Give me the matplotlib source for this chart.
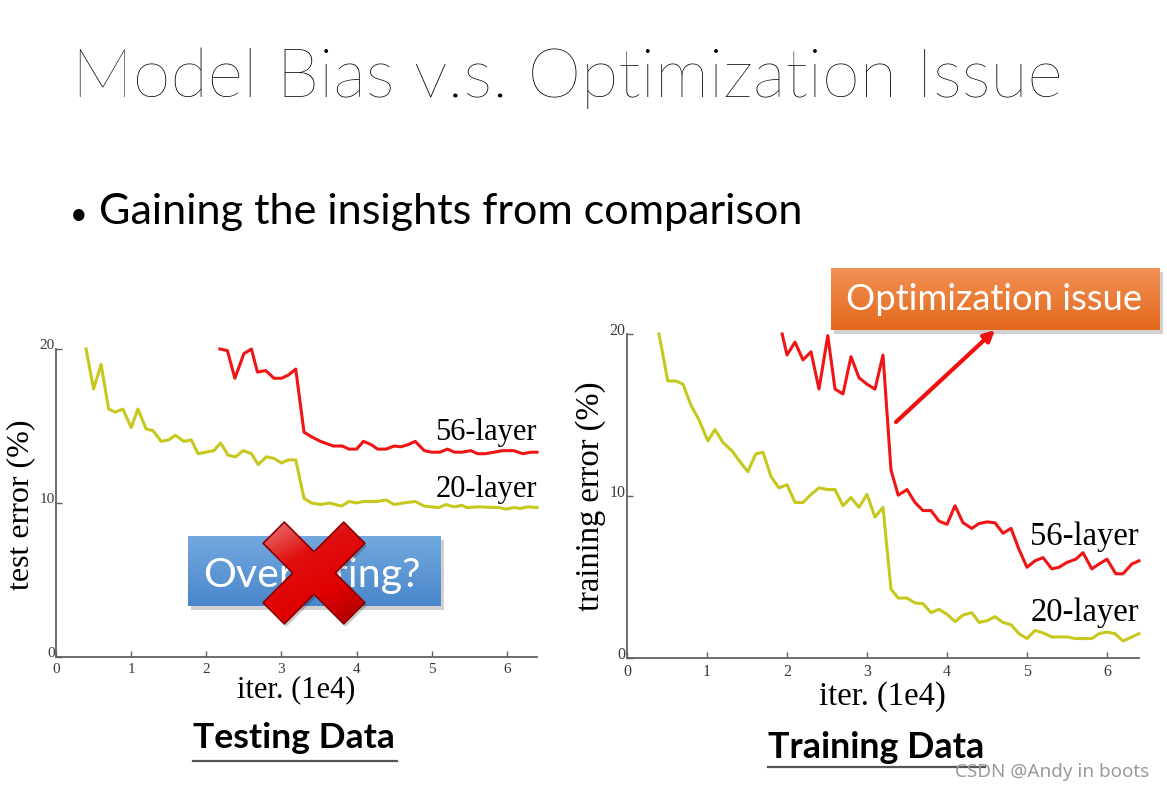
import matplotlib
matplotlib.use('Agg')
import matplotlib.pyplot as plt
import matplotlib.transforms as mtrans
import numpy as np
from matplotlib.patches import Polygon, Rectangle
from matplotlib.colors import LinearSegmentedColormap

W, H = 1167, 792

# ---- data (x in 1e4 iterations, y in %) ----
test56_x = [2.18, 2.28, 2.38, 2.50, 2.60, 2.68, 2.79, 2.90, 3.00, 3.09, 3.19, 3.30, 3.40, 3.52, 3.69,
            3.81, 3.90, 4.00, 4.09, 4.19, 4.28, 4.39, 4.50, 4.59, 4.69, 4.78, 4.90, 5.00, 5.11, 5.21,
            5.30, 5.40, 5.52, 5.61, 5.71, 5.83, 5.94, 6.09, 6.21, 6.32, 6.40]
test56_y = [20.0, 19.9, 18.1, 19.7, 20.0, 18.5, 18.6, 18.1, 18.1, 18.3, 18.7, 14.6, 14.3, 14.0, 13.7,
            13.7, 13.5, 13.5, 14.0, 13.8, 13.5, 13.5, 13.7, 13.65, 13.8, 14.0, 13.4, 13.3, 13.3, 13.5,
            13.3, 13.3, 13.4, 13.2, 13.2, 13.3, 13.4, 13.4, 13.2, 13.3, 13.3]

test20_x = [0.40, 0.50, 0.60, 0.70, 0.79, 0.89, 1.00, 1.09, 1.20, 1.29, 1.40, 1.50, 1.59, 1.70, 1.80,
            1.89, 1.99, 2.10, 2.19, 2.29, 2.39, 2.49, 2.60, 2.69, 2.80, 2.90, 3.00, 3.09, 3.19, 3.30,
            3.40, 3.52, 3.64, 3.80, 3.90, 4.00, 4.09, 4.28, 4.39, 4.50, 4.62, 4.78, 4.90, 5.09, 5.19,
            5.30, 5.40, 5.47, 5.61, 5.90, 5.99, 6.09, 6.18, 6.28, 6.40]
test20_y = [20.0, 17.4, 19.0, 16.1, 15.9, 16.1, 14.9, 16.1, 14.8, 14.7, 14.0, 14.1, 14.4, 14.0, 14.1,
            13.2, 13.3, 13.4, 13.9, 13.1, 13.0, 13.4, 13.2, 12.5, 13.0, 12.9, 12.6, 12.8, 12.8, 10.3,
            10.0, 9.9, 10.0, 9.8, 10.1, 10.0, 10.1, 10.1, 10.2, 9.9, 10.0, 10.1, 9.8, 9.7, 9.9,
            9.75, 9.85, 9.7, 9.75, 9.7, 9.6, 9.7, 9.65, 9.75, 9.7]

train56_x = [1.94, 2.00, 2.10, 2.20, 2.30, 2.40, 2.51, 2.60, 2.70, 2.80, 2.90, 3.00, 3.10, 3.20, 3.30,
             3.39, 3.50, 3.60, 3.70, 3.80, 3.90, 4.00, 4.10, 4.20, 4.31, 4.40, 4.50, 4.60, 4.70, 4.80,
             4.90, 5.00, 5.10, 5.20, 5.31, 5.40, 5.50, 5.61, 5.70, 5.81, 5.90, 6.00, 6.11, 6.20, 6.31,
             6.40]
train56_y = [20.0, 18.7, 19.5, 18.4, 18.9, 16.6, 19.9, 16.6, 16.3, 18.6, 17.3, 16.9, 16.6, 18.7, 11.6,
             10.05, 10.4, 9.6, 9.1, 9.1, 8.45, 8.25, 9.4, 8.35, 8.0, 8.3, 8.4, 8.35, 7.7, 8.0,
             6.7, 5.6, 6.0, 6.2, 5.5, 5.6, 5.9, 6.1, 6.5, 5.5, 5.8, 6.1, 5.2, 5.2, 5.8,
             6.0]

train20_x = [0.40, 0.51, 0.61, 0.70, 0.80, 0.90, 1.01, 1.10, 1.20, 1.31, 1.40, 1.51, 1.61, 1.70, 1.80,
             1.90, 2.00, 2.10, 2.20, 2.30, 2.40, 2.51, 2.60, 2.70, 2.80, 2.90, 3.00, 3.10, 3.20, 3.30,
             3.39, 3.50, 3.60, 3.70, 3.80, 3.90, 4.00, 4.10, 4.20, 4.31, 4.40, 4.50, 4.60, 4.70, 4.80,
             4.90, 5.00, 5.10, 5.20, 5.31, 5.40, 5.50, 5.61, 5.81, 5.90, 6.00, 6.10, 6.20, 6.31, 6.40]
train20_y = [20.0, 17.1, 17.1, 16.9, 15.6, 14.7, 13.4, 14.1, 13.3, 12.8, 12.2, 11.5, 12.6, 12.7, 11.2,
             10.5, 10.7, 9.6, 9.6, 10.1, 10.5, 10.4, 10.4, 9.4, 9.9, 9.3, 10.1, 8.7, 9.3, 4.25,
             3.7, 3.7, 3.4, 3.35, 2.8, 3.0, 2.7, 2.25, 2.65, 2.8, 2.2, 2.3, 2.55, 2.2, 2.05,
             1.5, 1.2, 1.7, 1.55, 1.3, 1.3, 1.3, 1.2, 1.2, 1.5, 1.6, 1.5, 1.05, 1.3, 1.5]

layer_names = ['56-layer', '20-layer']
x_ticks = [0, 1, 2, 3, 4, 5, 6]
y_ticks = [0, 10, 20]

RED = '#f01414'
GREEN = '#c6c81e'
SERIF = ['Liberation Serif', 'DejaVu Serif']
SANS = ['Lato', 'DejaVu Sans']

fig = plt.figure(figsize=(W / 100, H / 100), dpi=100)
fig.patch.set_facecolor('white')


def px_box(x0, y0, x1, y1):
    # pixel box (top-left origin) -> figure fraction rect
    return [x0 / W, 1 - y1 / H, (x1 - x0) / W, (y1 - y0) / H]


def style_axes(ax, tick_size):
    ax.set_xlim(0, 6.4)
    ax.set_ylim(0, 20)
    for s in ['top', 'right']:
        ax.spines[s].set_visible(False)
    for s in ['left', 'bottom']:
        ax.spines[s].set_color('#606060')
        ax.spines[s].set_linewidth(1.3)
    ax.set_xticks(x_ticks)
    ax.set_yticks(y_ticks)
    ax.tick_params(direction='in', length=4, width=1, color='#606060',
                   labelcolor='#3a3a3a', labelsize=tick_size)
    ax.tick_params(axis='y', pad=1)
    ax.tick_params(axis='x', pad=4)
    for lab in ax.get_xticklabels() + ax.get_yticklabels():
        lab.set_family(SERIF)
    # y labels sit a little above their ticks, as in the slide
    up = mtrans.ScaledTranslation(0, 0.05, fig.dpi_scale_trans)
    for lab in ax.get_yticklabels():
        lab.set_transform(lab.get_transform() + up)
    ax.patch.set_alpha(0)


# left: testing error
axL = fig.add_axes(px_box(56, 349, 537, 657))
style_axes(axL, 11)
axL.plot(test56_x, test56_y, color=RED, lw=2.2, clip_on=False)
axL.plot(test20_x, test20_y, color=GREEN, lw=2.2, clip_on=False)
axL.text(6.4, 14.6, layer_names[0], ha='right', va='center', fontsize=22, family=SERIF)
axL.text(6.4, 10.9, layer_names[1], ha='right', va='center', fontsize=22, family=SERIF)

# right: training error
axR = fig.add_axes(px_box(627, 334, 1139, 658))
style_axes(axR, 11.5)
axR.plot(train56_x, train56_y, color=RED, lw=2.2, clip_on=False)
axR.plot(train20_x, train20_y, color=GREEN, lw=2.2, clip_on=False)
axR.text(6.4, 7.5, layer_names[0], ha='right', va='center', fontsize=23.5, family=SERIF)
axR.text(6.4, 2.8, layer_names[1], ha='right', va='center', fontsize=23.5, family=SERIF)

# overlay in pixel coordinates for the slide decorations
ov = fig.add_axes([0, 0, 1, 1], zorder=5)
ov.set_axis_off()


def fit(t, width_px):
    r = fig.canvas.get_renderer()
    w = t.get_window_extent(r).width
    t.set_fontsize(t.get_fontsize() * width_px / w)


def gradient_box(x0, y0, x1, y1, c_top, c_bot):
    ov.add_patch(Rectangle((x0 + 3, y0 + 4), x1 - x0, y1 - y0, color='#000000', alpha=0.18, lw=0))
    cmap = LinearSegmentedColormap.from_list('g', [c_top, c_bot])
    grad = np.linspace(0, 1, 64).reshape(-1, 1)
    ov.imshow(grad, cmap=cmap, extent=[x0, x1, y1, y0], origin='upper', aspect='auto', zorder=2)


# axis labels
ov.text(296, 690, 'iter. (1e4)', ha='center', va='center', fontsize=22, family=SERIF)
ov.text(882, 697, 'iter. (1e4)', ha='center', va='center', fontsize=23.5, family=SERIF)
ov.text(21, 505, 'test error (%)', ha='center', va='center', rotation=90, fontsize=23, family=SERIF)
ov.text(591, 496, 'training error (%)', ha='center', va='center', rotation=90, fontsize=23.5, family=SERIF)

# title and bullet
t = ov.text(72, 97, 'Model Bias v.s. Optimization Issue', ha='left', va='baseline',
            fontsize=44, family=SANS, fontweight='light')
fit(t, 990)
ov.text(70, 224, '\u2022', ha='left', va='baseline', fontsize=22, family=SANS)
t = ov.text(99, 224, 'Gaining the insights from comparison', ha='left', va='baseline',
            fontsize=28, family=SANS)
fit(t, 707)

# "Overfitting?" box
gradient_box(188, 536, 441, 606, '#72a8de', '#4a87cb')
t = ov.text(203, 575, 'Overfitting?', ha='left', va='center', color='white',
            fontsize=30, family=SANS, zorder=3)
fit(t, 217)

# red cross over the box
cx, cy, w, L = 314, 573, 15, 57
plus = np.array([(-w, L), (w, L), (w, w), (L, w), (L, -w), (w, -w), (w, -L), (-w, -L),
                 (-w, -w), (-L, -w), (-L, w), (-w, w)], dtype=float)
c, s = np.cos(np.pi / 4), np.sin(np.pi / 4)
rot = plus @ np.array([[c, s], [-s, c]])
cross = Polygon(rot + [cx, cy], closed=True, facecolor='none', edgecolor='#8a0000',
                lw=1.2, joinstyle='round', zorder=5)
ov.add_patch(Polygon(rot + [cx + 2, cy + 3], closed=True, color='black', alpha=0.2, zorder=3, lw=0))
cmapx = LinearSegmentedColormap.from_list('x', ['#ec7a7a', '#e01010', '#e00000', '#a80000'])
gx, gy = np.meshgrid(np.linspace(0, 1, 64), np.linspace(0, 1, 64))
im = ov.imshow(0.35 * gx + 0.65 * gy, cmap=cmapx, extent=[cx - 52, cx + 52, cy + 52, cy - 52],
               origin='upper', aspect='auto', zorder=4)
clip = Polygon(rot + [cx, cy], closed=True, transform=ov.transData)
im.set_clip_path(clip)
ov.add_patch(cross)

# "Optimization issue" box and arrow
gradient_box(831, 268, 1160, 330, '#f39156', '#e2681b')
t = ov.text(846, 300, 'Optimization issue', ha='left', va='center', color='white',
            fontsize=24, family=SANS, zorder=3)
fit(t, 297)
ov.annotate('', xy=(995, 330), xytext=(896, 422),
            arrowprops=dict(arrowstyle='-|>', color='#f01010', lw=3, mutation_scale=16,
                            shrinkA=0, shrinkB=0))

# captions
t = ov.text(193, 748, 'Testing Data', ha='left', va='baseline', fontsize=24,
            family=SANS, fontweight='bold')
fit(t, 202)
ov.plot([193, 397], [761, 761], color='#555555', lw=1.6)
t = ov.text(768, 758, 'Training Data', ha='left', va='baseline', fontsize=24,
            family=SANS, fontweight='bold')
fit(t, 217)
ov.plot([768, 985], [767, 767], color='#555555', lw=1.6)
t = ov.text(955, 772, 'CSDN @Andy in boots', ha='left', va='center', color='#9a9a9a',
            fontsize=13, family=['Noto Sans', 'DejaVu Sans'])
fit(t, 195)

ov.set_xlim(0, W)
ov.set_ylim(H, 0)

fig.savefig('out.png', dpi=100)
